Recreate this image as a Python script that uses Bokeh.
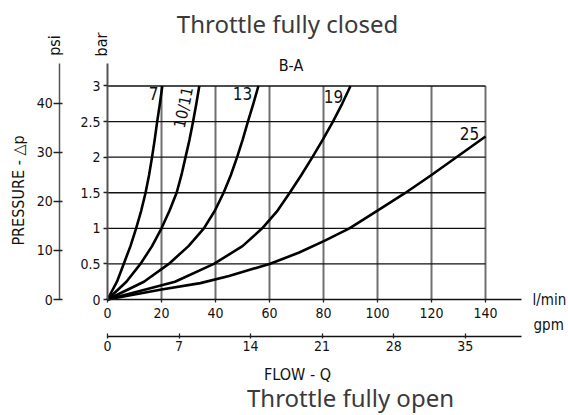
import math
from bokeh.plotting import figure
from bokeh.models import Range1d, LinearAxis, FixedTicker, Label
from bokeh.embed import file_html
from bokeh.resources import INLINE

# ---------------- data ----------------
lpm_ticks = [0, 20, 40, 60, 80, 100, 120, 140]
gpm_ticks = [0, 7, 14, 21, 28, 35]
bar_ticks = [0, 0.5, 1, 1.5, 2, 2.5, 3]
bar_tick_labels = ["0", "0.5", "1", "1.5", "2", "2.5", "3"]
psi_ticks = [0, 10, 20, 30, 40]

curve_names = ["7", "10/11", "13", "19", "25"]

dp_levels = [0, 0.25, 0.5, 0.75, 1.0, 1.25, 1.5, 1.75, 2.0, 2.25, 2.5, 2.75, 3.0]
flow_7 = [0, 3.5, 6.0, 8.5, 10.6, 12.5, 14.1, 15.4, 16.5, 17.5, 18.4, 19.4, 20.3]
flow_10_11 = [0, 7.0, 12.2, 16.5, 20.0, 23.0, 25.6, 27.4, 28.9, 30.4, 31.7, 32.9, 34.0]
flow_13 = [0, 13.5, 22.7, 30.0, 35.7, 39.8, 43.0, 45.7, 48.0, 50.1, 52.0, 54.0, 55.9]
flow_19 = [0, 25.0, 39.4, 50.0, 57.3, 63.0, 67.5, 71.8, 75.9, 79.8, 83.5, 86.9, 90.0]
flow_25 = [0, 10, 20, 34.4, 45, 60, 71, 80.7, 89.6, 100, 110, 120, 130, 140]
dp_25 = [0, 0.07, 0.14, 0.23, 0.33, 0.5, 0.66, 0.83, 1.0, 1.25, 1.49, 1.75, 2.02, 2.29]

LPM_PER_GPM = 3.785
PSI_PER_BAR = 14.5038

# ---------------- layout constants ----------------
W, H = 568, 415
OX, OY = 107, 299         # canvas px of the origin (0 l/min, 0 bar)
SX, SY = 2.7, 71.17       # px per l/min, px per bar

def X(px):  # canvas px -> l/min
    return (px - OX) / SX

def Y(py):  # canvas px -> bar
    return (OY - py) / SY

x_rng = Range1d(-OX / SX, (W - OX) / SX)
y_rng = Range1d(-(H - OY) / SY, OY / SY)

p = figure(width=W, height=H, x_range=x_rng, y_range=y_rng,
           output_backend="svg", toolbar_location=None,
           x_axis_type=None, y_axis_type=None, min_border=0)
p.outline_line_color = None
p.background_fill_color = "white"
p.border_fill_color = "white"

p.extra_x_ranges = {"gpm": Range1d(x_rng.start / LPM_PER_GPM, x_rng.end / LPM_PER_GPM)}
p.extra_y_ranges = {"psi": Range1d(y_rng.start * PSI_PER_BAR, y_rng.end * PSI_PER_BAR)}

NARROW = "DejaVu Sans Condensed, Liberation Sans, sans-serif"
TXT = "#111111"

# ---------------- grid ----------------
xmax = max(lpm_ticks)
ymax = max(bar_ticks)
p.segment(x0=lpm_ticks[1:], y0=0, x1=lpm_ticks[1:], y1=ymax,
          line_color="#707070", line_width=2)
p.segment(x0=0, y0=bar_ticks[1:], x1=xmax, y1=bar_ticks[1:],
          line_color="#111111", line_width=1.4)

# ---------------- curves ----------------
for fl, dp in [(flow_7, dp_levels), (flow_10_11, dp_levels), (flow_13, dp_levels),
               (flow_19, dp_levels), (flow_25, dp_25)]:
    p.line(fl, dp, line_color="black", line_width=2.6, line_join="round")

# ---------------- axes ----------------
def style(ax, size="14px"):
    ax.major_label_text_font = NARROW
    ax.major_label_text_font_size = size
    ax.major_label_text_color = TXT
    ax.minor_tick_line_color = None
    ax.major_tick_line_color = "#222222"
    ax.major_tick_line_width = 1.3

xa = LinearAxis(fixed_location=0, bounds=(0, X(521)), ticker=FixedTicker(ticks=lpm_ticks))
style(xa)
xa.axis_line_color = "#111111"
xa.axis_line_width = 1.6
xa.major_tick_in = 0
xa.major_tick_out = 3
xa.major_label_standoff = 5
p.add_layout(xa, "below")

ga = LinearAxis(x_range_name="gpm", fixed_location=Y(336),
                bounds=(0, X(521) / LPM_PER_GPM), ticker=FixedTicker(ticks=gpm_ticks))
style(ga)
ga.axis_line_color = "#111111"
ga.axis_line_width = 1.3
ga.major_tick_in = 3
ga.major_tick_out = 2
ga.major_label_standoff = 2
p.add_layout(ga, "below")

ya = LinearAxis(fixed_location=0, bounds=(0, Y(63)), ticker=FixedTicker(ticks=bar_ticks))
style(ya)
ya.major_label_overrides = {t: s for t, s in zip(bar_ticks, bar_tick_labels)}
ya.axis_line_color = "#555555"
ya.axis_line_width = 2
ya.major_tick_in = 0
ya.major_tick_out = 4
ya.major_label_standoff = 3
p.add_layout(ya, "left")

pa = LinearAxis(y_range_name="psi", fixed_location=X(59.3),
                bounds=(0, Y(63) * PSI_PER_BAR), ticker=FixedTicker(ticks=psi_ticks))
style(pa)
pa.axis_line_color = "#555555"
pa.axis_line_width = 1.5
pa.major_tick_in = 3
pa.major_tick_out = 6
pa.major_label_standoff = 1
p.add_layout(pa, "left")

# ---------------- texts ----------------
def lab(px, py, text, font=NARROW, size=16, align="center", baseline="alphabetic",
        angle=0.0, color=TXT):
    # (px, py): wanted position of the text baseline, in canvas pixels
    if baseline == "alphabetic":
        s = 0.43 * size
        px -= s * math.sin(angle)
        py -= s * math.cos(angle)
    p.add_layout(Label(x=X(px), y=Y(py), text=text, text_font=font,
                       text_font_size=f"{size}px",
                       text_align=align, text_baseline=baseline, angle=angle,
                       text_color=color))

lab(287, 33, "Throttle fully closed", font="Noto Sans", size=24, color="#3a3a3a")
lab(350, 407, "Throttle fully open", font="Noto Sans", size=24, color="#3a3a3a")
lab(290.5, 72, "B-A")
lab(297, 381, "FLOW - Q")
lab(532, 306, "l/min", align="left", size=15)
lab(533, 331, "gpm", align="left", size=15)
lab(108, 44, "bar", angle=math.pi / 2)
lab(61, 45, "psi", angle=math.pi / 2)
lab(25, 190, "PRESSURE - △p", angle=math.pi / 2)

lab(153, 100, curve_names[0], size=17)
lab(183, 107, curve_names[1], size=16, baseline="middle", angle=math.radians(78))
lab(242, 100, curve_names[2], size=17)
lab(333, 103, curve_names[3], size=17)
lab(469, 140, curve_names[4], size=17)

open("out.html", "w").write(file_html(p, INLINE))
